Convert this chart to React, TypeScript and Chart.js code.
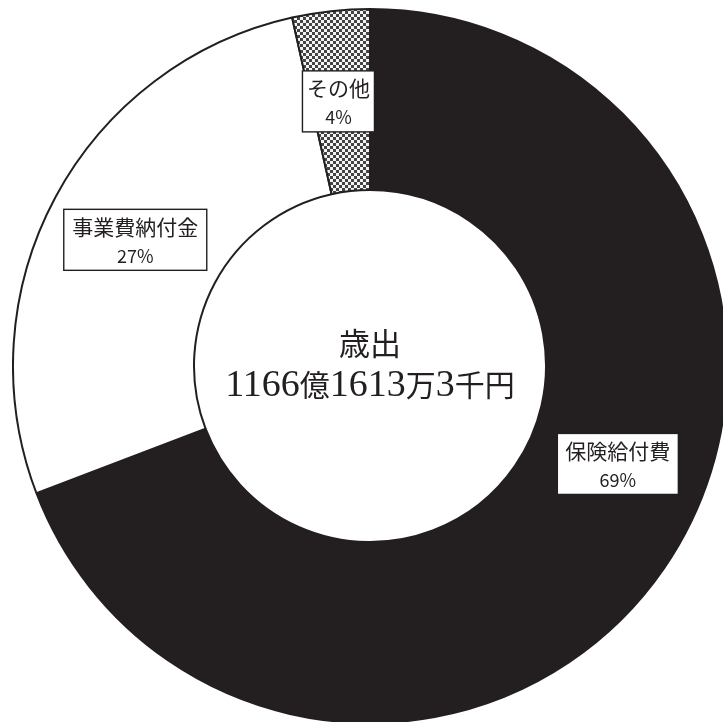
import { useEffect, useRef } from "react";
import { Chart, registerables } from "chart.js";

Chart.register(...registerables);

const categories = ["保険給付費", "事業費納付金", "その他"];
const shares = [69.2, 27.3, 3.5];
const percentLabels = ["69%", "27%", "4%"];
const centerTitle = "歳出";
const centerTotalRuns = ["1166", "億", "1613", "万", "3", "千円"];

const INK = "#231f20";
const LABEL_FONT = '"Noto Sans CJK JP", "Noto Sans", sans-serif';
const labelAngleShift = [-13, 0, -0.5];
const labelPadX = [8, 8.5, 4.5];

function makeChecker(): CanvasPattern | string {
  const c = document.createElement("canvas");
  c.width = 6;
  c.height = 6;
  const g = c.getContext("2d");
  if (!g) return "#999";
  g.fillStyle = "#f4f4f4";
  g.fillRect(0, 0, 6, 6);
  g.fillStyle = "#444444";
  g.fillRect(0, 0, 3, 3);
  g.fillRect(3, 3, 3, 3);
  return g.createPattern(c, "repeat") || "#999";
}

const boxLabels = {
  id: "boxLabels",
  afterDatasetsDraw(chart: any) {
    const ctx: CanvasRenderingContext2D = chart.ctx;
    const meta = chart.getDatasetMeta(0);
    meta.data.forEach((arc: any, i: number) => {
      const p = arc.getProps(["x", "y", "startAngle", "endAngle", "innerRadius", "outerRadius"], true);
      const mid = (p.startAngle + p.endAngle) / 2 + (labelAngleShift[i] * Math.PI) / 180;
      const r = (p.innerRadius + p.outerRadius) / 2;
      const bx = p.x + Math.cos(mid) * r;
      const by = p.y + Math.sin(mid) * r;
      ctx.save();
      ctx.font = `21px ${LABEL_FONT}`;
      const w1 = ctx.measureText(categories[i]).width;
      ctx.font = `18px ${LABEL_FONT}`;
      const w2 = ctx.measureText(percentLabels[i]).width;
      const bw = Math.max(w1, w2) + 2 * labelPadX[i];
      const bh = 61;
      ctx.fillStyle = "#ffffff";
      ctx.fillRect(bx - bw / 2, by - bh / 2, bw, bh);
      ctx.strokeStyle = INK;
      ctx.lineWidth = 1.4;
      ctx.strokeRect(bx - bw / 2, by - bh / 2, bw, bh);
      ctx.fillStyle = INK;
      ctx.textAlign = "center";
      ctx.textBaseline = "middle";
      ctx.font = `21px ${LABEL_FONT}`;
      ctx.fillText(categories[i], bx, by - 13);
      ctx.font = `18px ${LABEL_FONT}`;
      ctx.fillText(percentLabels[i], bx, by + 16);
      ctx.restore();
    });
  },
};

const centerText = {
  id: "centerText",
  afterDraw(chart: any) {
    const ctx: CanvasRenderingContext2D = chart.ctx;
    const arc = chart.getDatasetMeta(0).data[0];
    if (!arc) return;
    const cx = arc.x;
    const cy = arc.y;
    ctx.save();
    ctx.fillStyle = INK;
    ctx.textBaseline = "alphabetic";
    ctx.textAlign = "center";
    ctx.font = '31px "Liberation Serif", "Noto Sans CJK JP", serif';
    ctx.fillText(centerTitle, cx, cy - 11);
    const fontFor = (s: string) =>
      /^[0-9]+$/.test(s)
        ? '38px "Liberation Serif", serif'
        : '30px "Noto Sans CJK JP", sans-serif';
    let total = 0;
    const widths = centerTotalRuns.map((s) => {
      ctx.font = fontFor(s);
      const w = ctx.measureText(s).width;
      total += w;
      return w;
    });
    ctx.textAlign = "left";
    let x = cx - total / 2;
    centerTotalRuns.forEach((s, i) => {
      ctx.font = fontFor(s);
      ctx.fillText(s, x, cy + 30);
      x += widths[i];
    });
    ctx.restore();
  },
};

export default function App() {
  const ref = useRef<HTMLCanvasElement | null>(null);
  useEffect(() => {
    if (!ref.current) return;
    const chart = new Chart(ref.current, {
      type: "doughnut",
      data: {
        labels: categories,
        datasets: [
          {
            data: shares,
            backgroundColor: [INK, "#ffffff", makeChecker()],
            borderColor: INK,
            borderWidth: 2,
          },
        ],
      },
      options: {
        responsive: false,
        animation: false,
        cutout: "49.3%",
        layout: { padding: 0 },
        plugins: {
          legend: { display: false },
          tooltip: { enabled: false },
        },
      },
      plugins: [boxLabels, centerText],
    });
    return () => chart.destroy();
  }, []);
  return (
    <div
      style={{
        position: "fixed",
        left: 0,
        top: 0,
        right: 0,
        bottom: 0,
        overflow: "hidden",
        background: "#ffffff",
      }}
    >
      <canvas
        ref={ref}
        width={716}
        height={716}
        style={{ position: "absolute", left: 12, top: 8, width: 716, height: 716 }}
      />
    </div>
  );
}
